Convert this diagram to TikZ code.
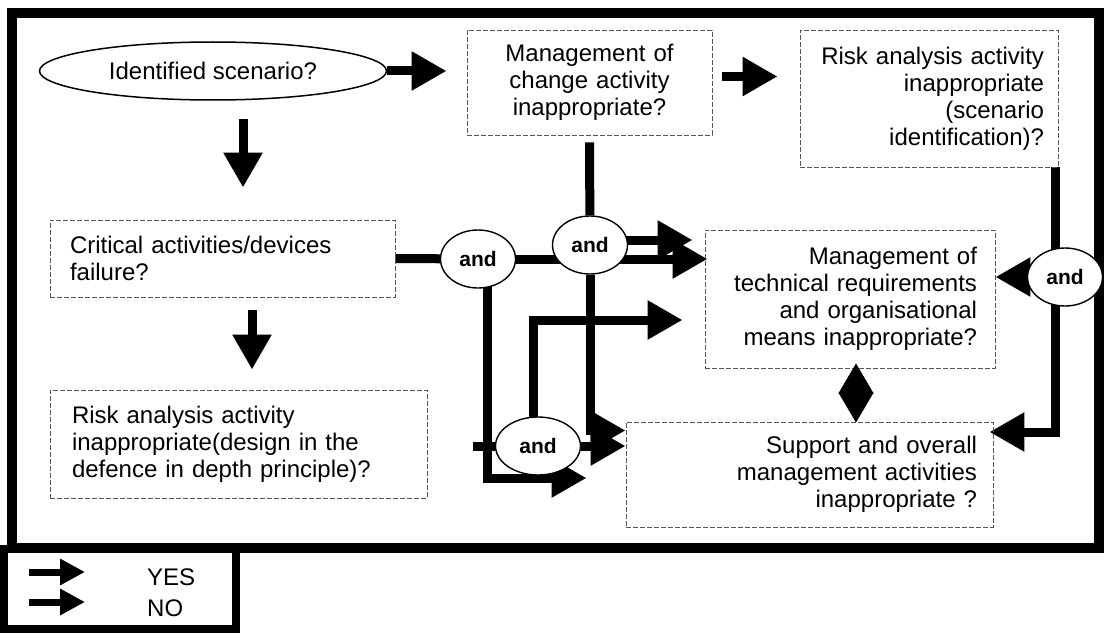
\documentclass[tikz,border=0pt]{standalone}
\usepackage{fontspec}
\setmainfont{Liberation Sans}
\usetikzlibrary{shapes.geometric, arrows.meta, positioning, backgrounds, calc}
\definecolor{boxline}{HTML}{555555}

\tikzset{
  qbox/.style={rectangle, draw=boxline, dash pattern=on 5pt off 2pt, line width=0.9pt,
    inner sep=0pt, font=\fontsize{24}{27}\selectfont},
  andnode/.style={ellipse, draw, line width=1.4pt, fill=white, minimum width=75pt,
    minimum height=58pt, inner sep=0pt, font=\bfseries\fontsize{21}{24}\selectfont},
  link/.style={line width=9pt},
  flow/.style={line width=9pt, -{Triangle[length=35pt,width=37pt]}},
  legflow/.style={line width=7pt, -{Triangle[length=25pt,width=25pt]}},
  both/.style={line width=1pt, {Triangle[length=30pt,width=35pt]}-{Triangle[length=30pt,width=35pt]}},
}

\begin{document}
\begin{tikzpicture}[x=1pt, y=-1pt]
\useasboundingbox (0,0) rectangle (1104,634);

% frame and legend
\draw[line width=10pt] (12,13) rectangle (1099,548);
\draw[line width=8pt] (4,549) rectangle (236,629);

% questions
\node[ellipse, draw, line width=1.5pt, minimum width=347pt, minimum height=58pt, inner sep=0pt,
      font=\fontsize{24}{27}\selectfont] (scen) at (213,71) {Identified scenario?};
\node[qbox, minimum width=245pt, minimum height=105pt, text width=220pt, align=center]
  (mgmt) at (589.5,82.5) {Management of\\ change activity\\ inappropriate?};
\node[qbox, minimum width=258pt, minimum height=137pt, text width=230pt, align=right]
  (risk) at (929,98.5) {Risk analysis activity\\ inappropriate\\ (scenario\\ identification)?};
\node[qbox, minimum width=345pt, minimum height=77pt, text width=305pt, align=left]
  (crit) at (222.5,258.5) {Critical activities/devices\\ failure?};
\node[qbox, minimum width=377pt, minimum height=108pt, text width=333pt, align=left]
  (design) at (238.5,444) {Risk analysis activity\\ inappropriate(design in the\\ defence in depth principle)?};
\node[qbox, minimum width=290pt, minimum height=138pt, text width=254pt, align=right]
  (tech) at (850,299) {Management of\\ technical requirements\\ and organisational\\ means inappropriate?};
\node[qbox, minimum width=367pt, minimum height=105pt, text width=335pt, align=right]
  (supp) at (809.5,474.5) {Support and overall\\ management activities\\ inappropriate ?};

% and gates
\node[andnode] (and1) at (478,259) {and};
\node[andnode] (and2) at (590,245) {and};
\node[andnode, minimum width=85pt] (and3) at (538,446) {and};
\node[andnode] (and4) at (1065,277) {and};

\coordinate (d1) at (243,0);
\coordinate (d2) at (252,0);
\coordinate (dm) at (856,0);
\coordinate (j3) at (473,446);

\begin{pgfonlayer}{background}
\draw[flow, shorten >=20pt] (scen.east) -- (scen.east -| mgmt.west);
\draw[flow, shorten <=10pt, shorten >=22pt] ([yshift=6pt]mgmt.east) -- ([yshift=6pt]mgmt.east -| risk.west);
\draw[flow, shorten <=18pt, shorten >=32pt] (scen.south -| d1) -- (crit.north -| d1);
\draw[flow, shorten <=13pt, shorten >=20pt] (crit.south -| d2) -- (design.north -| d2);

\draw[link] (crit.east) -- (and1);
\draw[flow, shorten >=-3pt] (and1) -- (and1 -| tech.west);
\draw[flow, shorten >=12pt] ([yshift=5pt]and2.center) -- ([yshift=5pt]and2.center -| tech.west);
\draw[link, shorten <=7pt] (mgmt.south) -- (and2);
\draw[flow] (and2) |- ([yshift=44pt]supp.west);
\draw[flow, shorten >=39pt] ([xshift=9pt]and1.center) |- ([yshift=-3.5pt]supp.west);
\draw[link] (j3) -- (and3);
\draw[flow] (and3) -- (and3 -| supp.west);
\draw[flow, shorten >=22pt] ([xshift=-5pt]and3.center) |- ([yshift=-21pt]tech.west);

\draw[link] ([xshift=-3pt]risk.south east) -- ([xshift=-3pt]risk.south east |- and4);
\draw[flow] (and4) -- (and4 -| tech.east);
\draw[flow, shorten >=-4pt] ([xshift=-10pt]and4.center) |- ([yshift=42.5pt]supp.east);
\end{pgfonlayer}

\draw[both] ([yshift=5pt]tech.south -| dm) -- ([yshift=-1pt]supp.north -| dm);

% legend
\node[anchor=west, inner sep=0pt, font=\fontsize{24}{27}\selectfont] (yes) at (147,577) {YES};
\node[anchor=west, inner sep=0pt, font=\fontsize{24}{27}\selectfont] (no) at (147,608) {NO};
\coordinate (ys) at (29,572);
\coordinate (ns) at (29,602);
\draw[legflow, shorten >=62pt] (ys) -- (ys -| yes.west);
\draw[legflow, shorten >=62pt] (ns) -- (ns -| no.west);
\end{tikzpicture}
\end{document}
